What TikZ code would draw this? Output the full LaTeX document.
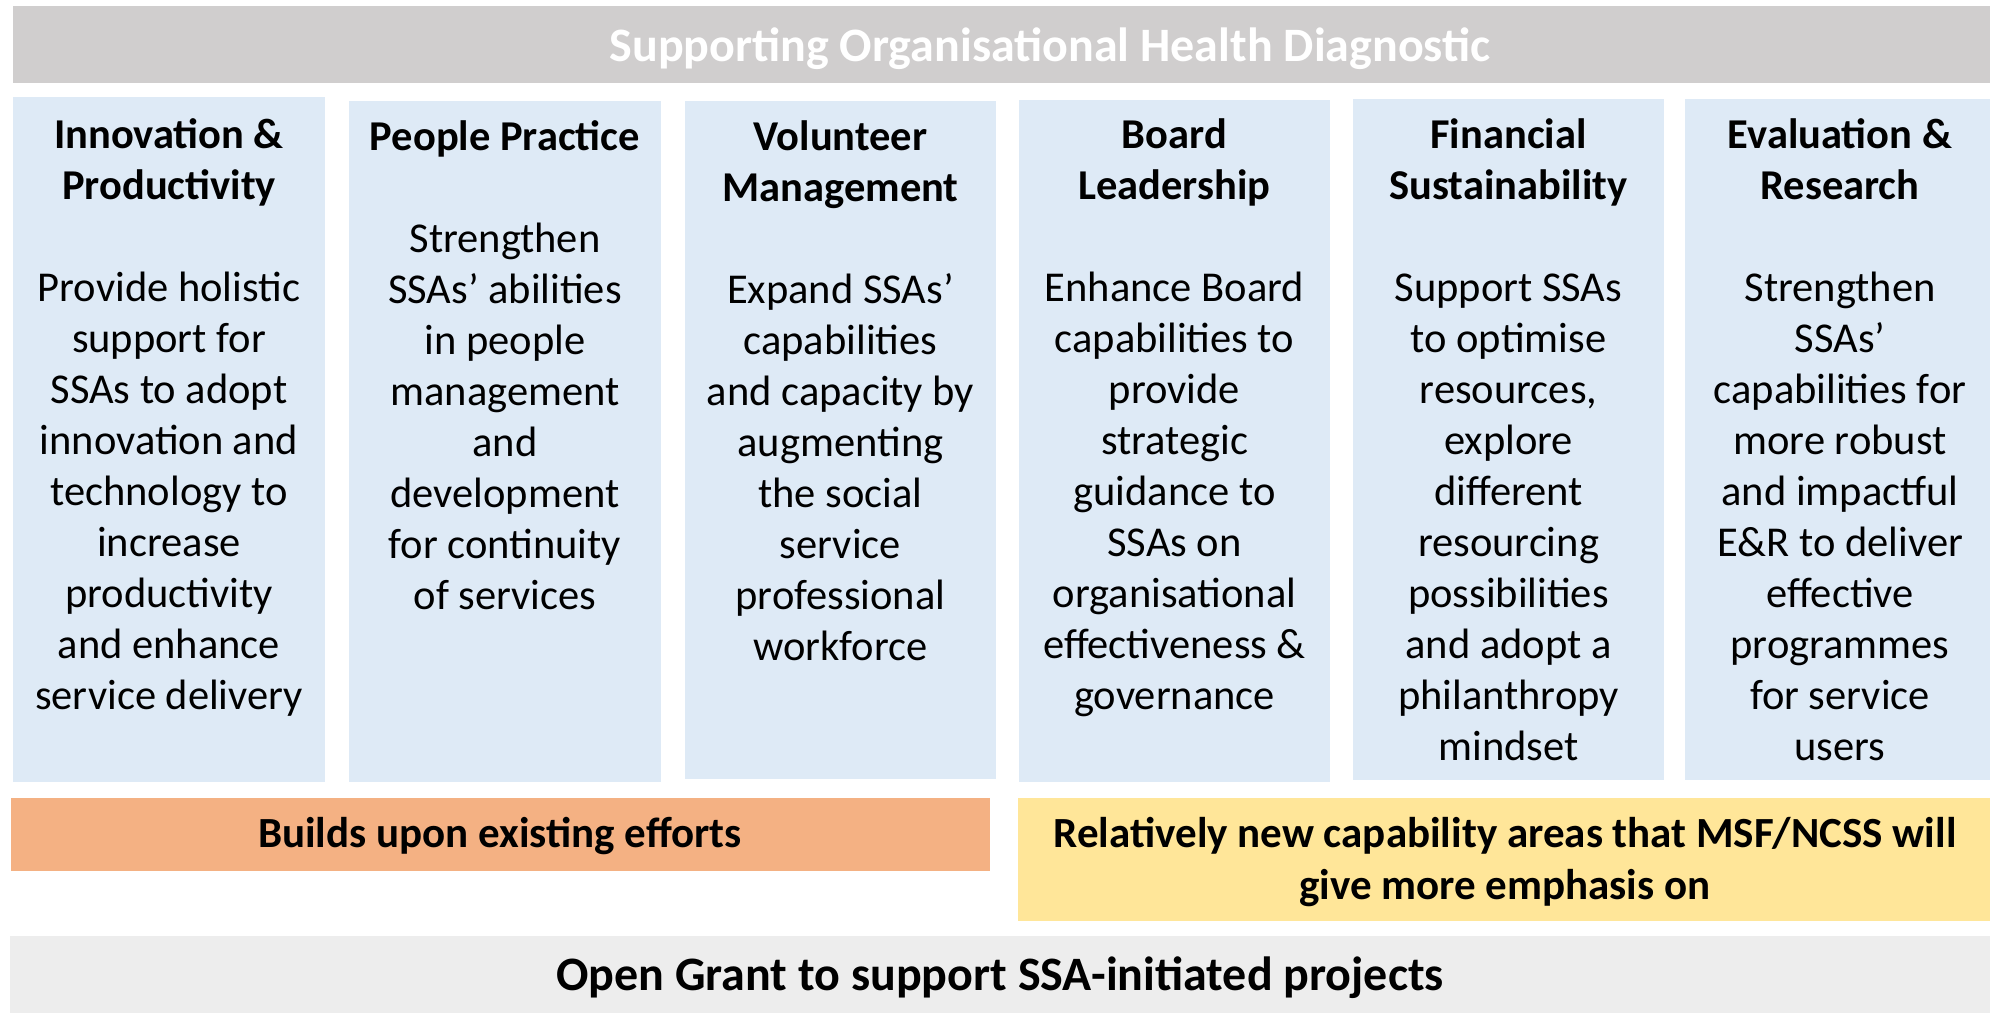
\documentclass[tikz,border=0pt]{standalone}
\usepackage{fontspec}
\setmainfont{Carlito}
\definecolor{bannergrey}{HTML}{D0CECE}
\definecolor{colblue}{HTML}{DEEAF6}
\definecolor{barorange}{HTML}{F4B183}
\definecolor{baryellow}{HTML}{FFE699}
\definecolor{footgrey}{HTML}{EDEDED}
\newcommand{\firstline}{\rule{0pt}{40pt}}
\begin{document}
\begin{tikzpicture}[x=1pt,y=-1pt,
  panel/.style={draw=none, inner sep=0pt, outer sep=0pt, anchor=north west},
  colbox/.style={panel, fill=colblue},
  coltext/.style={anchor=north, inner sep=0pt, align=center,
    font=\fontsize{42.5}{51}\selectfont},
  bartext/.style={inner sep=0pt, align=center,
    font=\fontsize{43}{52}\selectfont\bfseries}]
\useasboundingbox (0,0) rectangle (1990,1015);

% title banner
\node[panel, fill=bannergrey, minimum width=1977pt, minimum height=77pt] (banner) at (13,6) {};
\node[anchor=base, inner sep=0pt, text=white, font=\fontsize{48}{56}\selectfont\bfseries]
  (title) at (1050,61) {Supporting Organisational Health Diagnostic};

% capability columns
\node[colbox, minimum width=312pt, minimum height=685pt] (c1) at (13,97) {};
\node[colbox, minimum width=312pt, minimum height=681pt] (c2) at (349,101) {};
\node[colbox, minimum width=311pt, minimum height=678pt] (c3) at (685,101) {};
\node[colbox, minimum width=311pt, minimum height=682pt] (c4) at (1019,100) {};
\node[colbox, minimum width=311pt, minimum height=681pt] (c5) at (1353,99) {};
\node[colbox, minimum width=305pt, minimum height=681pt] (c6) at (1685,99) {};

\node[coltext] (t1) at (169,108) {\firstline\textbf{Innovation \&}\\\textbf{Productivity}\\[51pt]
  Provide holistic\\support for\\SSAs to adopt\\innovation and\\technology to\\increase\\productivity\\and enhance\\service delivery};
\node[coltext] (t2) at (505,110) {\firstline\textbf{People Practice}\\[51pt]
  Strengthen\\SSAs’ abilities\\in people\\management\\and\\development\\for continuity\\of services};
\node[coltext] (t3) at (840.5,110.5) {\firstline\textbf{Volunteer}\\\textbf{Management}\\[51pt]
  Expand SSAs’\\capabilities\\and capacity by\\augmenting\\the social\\service\\professional\\workforce};
\node[coltext] (t4) at (1174.5,108) {\firstline\textbf{Board}\\\textbf{Leadership}\\[51pt]
  Enhance Board\\capabilities to\\provide\\strategic\\guidance to\\SSAs on\\organisational\\effectiveness \&\\governance};
\node[coltext] (t5) at (1508.5,108) {\firstline\textbf{Financial}\\\textbf{Sustainability}\\[51pt]
  Support SSAs\\to optimise\\resources,\\explore\\different\\resourcing\\possibilities\\and adopt a\\philanthropy\\mindset};
\node[coltext] (t6) at (1840,108) {\firstline\textbf{Evaluation \&}\\\textbf{Research}\\[51pt]
  Strengthen\\SSAs’\\capabilities for\\more robust\\and impactful\\E\&R to deliver\\effective\\programmes\\for service\\users};

% grouping bars
\node[panel, fill=barorange, minimum width=979pt, minimum height=73pt] (existing) at (11,798) {};
\node[bartext, anchor=base] (existingtext) at (500,847) {Builds upon existing efforts};
\node[panel, fill=baryellow, minimum width=972pt, minimum height=123pt] (new) at (1018,798) {};
\node[bartext, anchor=north] (newtext) at (1505,807) {\firstline Relatively new capability areas that MSF/NCSS will\\give more emphasis on};

% open grant footer
\node[panel, fill=footgrey, minimum width=1980pt, minimum height=77pt] (grant) at (10,936) {};
\node[anchor=base, inner sep=0pt, font=\fontsize{48}{56}\selectfont\bfseries]
  (granttext) at (1000,990) {Open Grant to support SSA-initiated projects};
\end{tikzpicture}
\end{document}
